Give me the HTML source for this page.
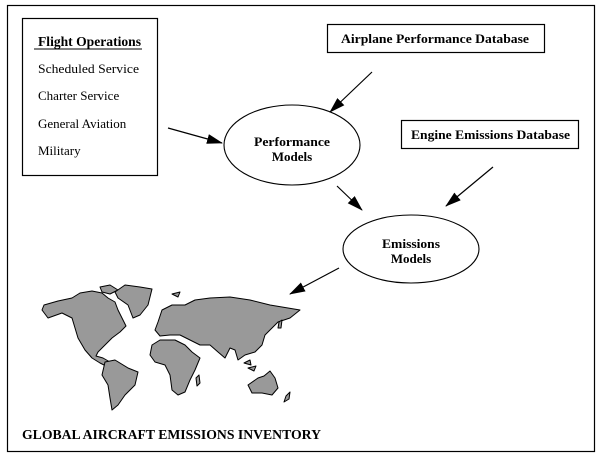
<!DOCTYPE html>
<html><head><meta charset="utf-8"><style>
html,body{margin:0;padding:0;background:#fff;}
svg{display:block;}
text{font-family:"Liberation Serif",serif;fill:#000;}
</style></head><body>
<svg width="600" height="465" viewBox="0 0 600 465" xmlns="http://www.w3.org/2000/svg">
<defs>
<marker id="b" markerWidth="16" markerHeight="10" refX="15" refY="5" orient="auto" markerUnits="userSpaceOnUse">
<path d="M0,0 L16,5 L0,10 Z" fill="#000"/></marker>
</defs>
<rect x="7.5" y="5.5" width="587" height="446" fill="none" stroke="#000" stroke-width="1.2"/>
<rect x="22.5" y="18.5" width="135" height="157" fill="none" stroke="#000" stroke-width="1.2"/>
<text x="38" y="46" font-size="13.5" font-weight="bold" textLength="103" lengthAdjust="spacingAndGlyphs">Flight Operations</text>
<line x1="34" y1="49" x2="142" y2="49" stroke="#000" stroke-width="1"/>
<text x="38" y="73" font-size="13" textLength="101" lengthAdjust="spacingAndGlyphs">Scheduled Service</text>
<text x="38" y="100" font-size="13">Charter Service</text>
<text x="38" y="128" font-size="13">General Aviation</text>
<text x="38" y="155" font-size="13">Military</text>
<rect x="327.5" y="24.5" width="217" height="28" fill="none" stroke="#000" stroke-width="1.2"/>
<text x="341" y="43" font-size="13" font-weight="bold" textLength="188" lengthAdjust="spacingAndGlyphs">Airplane Performance Database</text>
<rect x="401.5" y="120.5" width="177" height="28" fill="none" stroke="#000" stroke-width="1.2"/>
<text x="411" y="139" font-size="13" font-weight="bold" textLength="159" lengthAdjust="spacingAndGlyphs">Engine Emissions Database</text>
<ellipse cx="292" cy="145" rx="68" ry="40" fill="none" stroke="#000" stroke-width="1.1"/>
<text x="254" y="146" font-size="13" font-weight="bold" textLength="76" lengthAdjust="spacingAndGlyphs">Performance</text>
<text x="292" y="161" font-size="13" font-weight="bold" text-anchor="middle">Models</text>
<ellipse cx="411" cy="249" rx="68" ry="34" fill="none" stroke="#000" stroke-width="1.1"/>
<text x="382" y="248" font-size="13" font-weight="bold" textLength="58" lengthAdjust="spacingAndGlyphs">Emissions</text>
<text x="411" y="263" font-size="13" font-weight="bold" text-anchor="middle">Models</text>
<line x1="168" y1="128" x2="222" y2="143" stroke="#000" stroke-width="1.2" marker-end="url(#b)"/>
<line x1="372" y1="72" x2="330" y2="112" stroke="#000" stroke-width="1.2" marker-end="url(#b)"/>
<line x1="337" y1="186" x2="362" y2="210" stroke="#000" stroke-width="1.2" marker-end="url(#b)"/>
<line x1="493" y1="167" x2="446" y2="206" stroke="#000" stroke-width="1.2" marker-end="url(#b)"/>
<line x1="339" y1="268" x2="290" y2="294" stroke="#000" stroke-width="1.2" marker-end="url(#b)"/>
<g fill="#999" stroke="#000" stroke-width="1" stroke-linejoin="round">
<path d="M44,305 L58,301 L72,298 L80,293 L92,291 L102,293 L108,298 L115,302 L118,310 L122,318 L126,326 L120,332 L112,338 L104,346 L98,352 L96,356 L103,358 L110,362 L108,367 L100,363 L92,358 L85,350 L78,338 L75,328 L72,318 L62,313 L48,318 L42,310 Z"/>
<path d="M100,287 L110,285 L118,290 L110,294 L102,292 Z"/>
<path d="M115,292 L125,285 L140,287 L152,289 L148,305 L140,315 L133,318 L128,305 L118,298 Z"/>
<path d="M105,362 L115,360 L128,368 L138,372 L135,385 L125,395 L118,405 L112,410 L110,398 L108,385 L102,375 Z"/>
<path d="M158,322 L162,310 L172,305 L185,305 L195,300 L210,298 L230,297 L250,300 L270,305 L300,310 L290,318 L278,322 L270,330 L265,335 L262,345 L255,352 L245,355 L238,360 L235,350 L230,348 L225,358 L218,352 L210,345 L200,345 L190,340 L180,335 L170,335 L160,336 L155,330 Z"/>
<path d="M152,345 L160,340 L175,340 L185,345 L192,352 L200,358 L195,370 L190,380 L185,392 L178,395 L172,390 L170,375 L165,365 L155,362 L150,355 Z"/>
<path d="M248,385 L258,378 L264,376 L270,371 L275,378 L278,388 L272,395 L262,393 L252,393 Z"/>
<path d="M196,378 L199,375 L200,383 L197,386 Z"/>
<path d="M279,322 L282,320 L281,328 L278,328 Z"/>
<path d="M286,396 L290,392 L289,399 L284,402 Z"/>
<path d="M248,368 L256,366 L254,371 Z"/>
<path d="M244,363 L250,360 L251,365 Z"/>
<path d="M172,294 L180,292 L178,297 Z"/>
</g>
<text x="22" y="439" font-size="13.5" font-weight="bold" textLength="299" lengthAdjust="spacingAndGlyphs">GLOBAL AIRCRAFT EMISSIONS INVENTORY</text>
</svg>
</body></html>
